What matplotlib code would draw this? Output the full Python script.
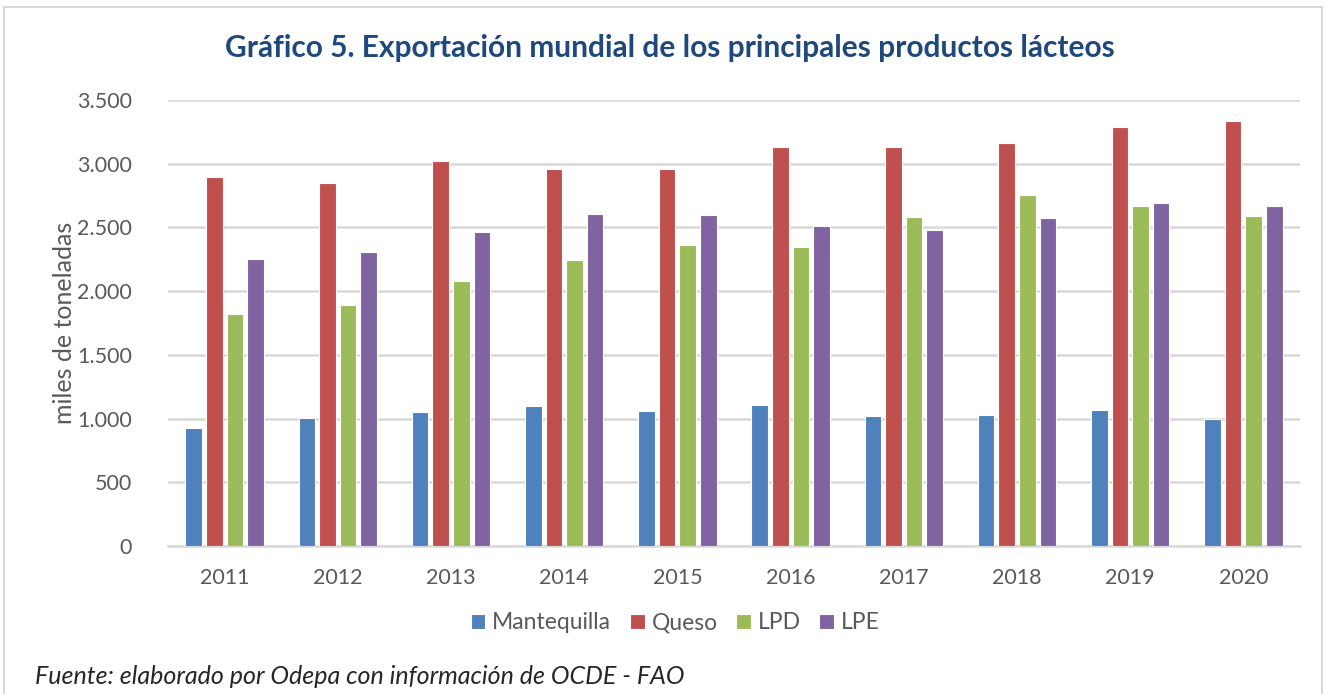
import numpy as np
import matplotlib.pyplot as plt
from matplotlib.patches import Rectangle
from matplotlib.ticker import FuncFormatter

plt.rcParams['font.family'] = ['Lato', 'DejaVu Sans']

years = ['2011', '2012', '2013', '2014', '2015', '2016', '2017', '2018', '2019', '2020']
mantequilla = [925, 1002, 1052, 1099, 1057, 1107, 1020, 1031, 1067, 997]
queso = [2894, 2852, 3019, 2959, 2959, 3132, 3129, 3166, 3291, 3333]
lpd = [1818, 1892, 2077, 2242, 2363, 2350, 2582, 2755, 2671, 2588]
lpe = [2253, 2305, 2462, 2606, 2596, 2509, 2478, 2575, 2692, 2666]

series = [('Mantequilla', mantequilla, '#4F81BD'),
          ('Queso', queso, '#C0504D'),
          ('LPD', lpd, '#9BBB59'),
          ('LPE', lpe, '#8064A2')]

fig = plt.figure(figsize=(13.3, 6.94), dpi=100)
# outer chart border
fig.patches.append(Rectangle((4/1330, -0.1), 1318/1330, 1.1 - 7/694, transform=fig.transFigure,
                             fill=False, edgecolor='#D9D9D9', linewidth=1.5))

ax = fig.add_axes([168/1330, 1 - 546/694, 1132/1330, 446/694])
x = np.arange(len(years))
pitch = 0.182
for i, (name, vals, col) in enumerate(series):
    ax.bar(x + (i - 1.5) * pitch, vals, width=pitch - 0.035, color=col, edgecolor='white',
           linewidth=0.8, label=name, zorder=3)

ax.set_xlim(-0.5, len(years) - 0.5)
ax.set_ylim(0, 3500)
ax.set_yticks(np.arange(0, 3501, 500))
ax.yaxis.set_major_formatter(FuncFormatter(lambda v, p: f'{int(v):,}'.replace(',', '.')))
ax.set_xticks(x)
ax.set_xticklabels(years)
ax.grid(axis='y', color='#D9D9D9', linewidth=1.8, zorder=0)
for s in ['top', 'right', 'left']:
    ax.spines[s].set_visible(False)
ax.spines['bottom'].set_color('#D9D9D9')
ax.spines['bottom'].set_linewidth(1.8)
ax.tick_params(axis='both', length=0, labelsize=15.5, labelcolor='#595959')
ax.tick_params(axis='y', pad=26)
ax.tick_params(axis='x', pad=16)
ax.set_ylabel('miles de toneladas', fontsize=18, color='#595959', labelpad=1)

fig.text(0.504, 1 - 48/694, 'Gráfico 5. Exportación mundial de los principales productos lácteos',
         ha='center', va='center', fontsize=21.5, fontweight='bold', color='#1F497D')

ax.legend(loc='center', bbox_to_anchor=(0.448, -0.172), ncol=4, frameon=False, fontsize=16.5,
          handlelength=0.65, handleheight=0.65, handletextpad=0.3, columnspacing=0.8,
          labelcolor='#595959')

fig.text(35/1330, 1 - 677/694, 'Fuente: elaborado por Odepa con información de OCDE - FAO',
         ha='left', va='center', fontsize=18, style='italic', color='#262626')

plt.savefig('out.png', dpi=100)
